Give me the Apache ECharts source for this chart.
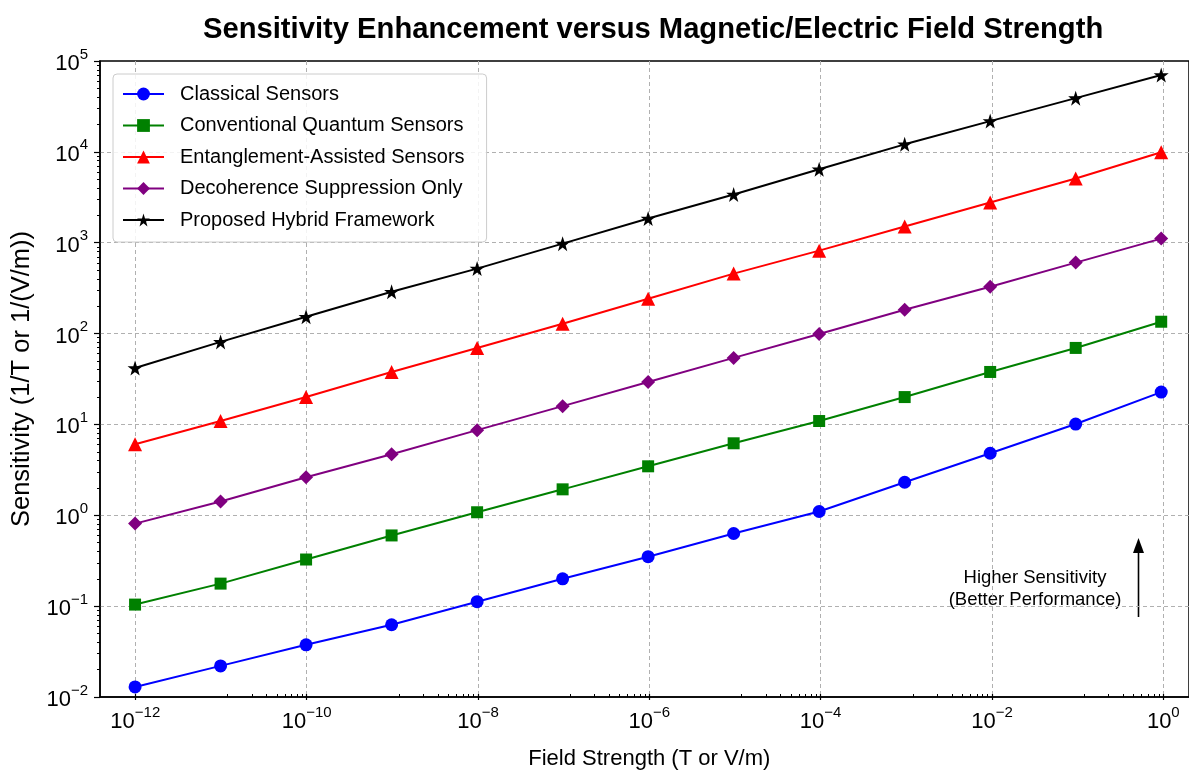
<!DOCTYPE html>
<html>
<head>
<meta charset="utf-8">
<script src="https://cdn.jsdelivr.net/npm/echarts@6/dist/echarts.min.js"></script>
<style>
  html, body { margin: 0; padding: 0; background: #fff; }
  #chart { width: 1189px; height: 775px; }
</style>
</head>
<body>
<div id="chart"></div>
<script>
// field strength (T or V/m), one point per decade
const fieldStrength = [1e-12, 1e-11, 1e-10, 1e-9, 1e-8, 1e-7, 1e-6, 1e-5, 1e-4, 1e-3, 1e-2, 1e-1, 1]

// sensitivity (1/T or 1/(V/m))
const classical = [0.0129, 0.022, 0.0375, 0.0624, 0.112, 0.2, 0.35, 0.63, 1.1, 2.31, 4.82, 10.1, 22.7]
const conventionalQuantum = [0.104, 0.177, 0.326, 0.6, 1.08, 1.93, 3.46, 6.2, 10.9, 20, 37.8, 69.5, 135]
const entanglement = [6.05, 10.9, 20, 37.8, 69.5, 128, 242, 457, 818, 1507, 2775, 5100, 9890]
const decoherence = [0.81, 1.42, 2.62, 4.7, 8.65, 15.9, 29.3, 54, 99, 183, 328, 604, 1110]
const hybrid = [41.8, 81, 153, 289, 519, 977, 1849, 3400, 6430, 12100, 21800, 39000, 70000]

const seriesNames = [
    'Classical Sensors',
    'Conventional Quantum Sensors',
    'Entanglement-Assisted Sensors',
    'Decoherence Suppression Only',
    'Proposed Hybrid Framework',
]
const seriesValues = [classical, conventionalQuantum, entanglement, decoherence, hybrid]
const seriesColors = ['#0000ff', '#008000', '#ff0000', '#800080', '#000000']
const starPath = 'path://M50,0 L61.2,34.5 L97.6,34.5 L69.1,55.9 L79.4,90.5 L50,69.1 L20.6,90.5 L30.9,55.9 L2.4,34.5 L38.8,34.5 Z'
const seriesSymbols = ['circle', 'rect', 'triangle', 'path://M0,50 L50,0 L100,50 L50,100 Z', starPath]
const symbolSizes = [13, 12, 14, 14, 15]

const FONT = 'Liberation Sans, Arial, sans-serif'

const powLabel = (v) => {
    const e = Math.round(Math.log10(v))
    return '{b|10}{s|' + String(e).replace('-', '\u2212') + '}'
}
const powRich = {
    b: { fontSize: 22, lineHeight: 28, verticalAlign: 'bottom', fontFamily: FONT, color: '#000' },
    s: { fontSize: 15, lineHeight: 9, verticalAlign: 'top', fontFamily: FONT, color: '#000' },
}
const gridDash = { color: '#b0b0b0', type: [4, 3], width: 1 }

const chart = echarts.init(document.getElementById('chart'))

chart.setOption({
    animation: false,
    backgroundColor: '#fff',
    title: {
        text: 'Sensitivity Enhancement versus Magnetic/Electric Field Strength',
        left: 198,
        top: 10,
        textStyle: { fontFamily: FONT, fontSize: 29.2, fontWeight: 'bold', color: '#000' },
    },
    legend: {
        orient: 'vertical',
        left: 113,
        top: 74,
        padding: [10, 22, 12, 9],
        itemWidth: 41,
        itemHeight: 16,
        itemGap: 11.5,
        backgroundColor: 'rgba(255,255,255,0.85)',
        borderColor: '#cccccc',
        borderWidth: 1,
        borderRadius: 4,
        data: seriesNames,
        textStyle: { fontFamily: FONT, fontSize: 20, color: '#000', lineHeight: 20, padding: [0, 0, 0, 11] },
    },
    grid: [
        { left: 100, right: -2, top: 61, bottom: 78, show: true, borderColor: '#000', borderWidth: 1.5, backgroundColor: 'transparent' },
        { left: 135.3, right: 25.7, top: 61, bottom: 78 },
    ],
    xAxis: [
        {
            type: 'log',
            gridIndex: 0,
            logBase: 10,
            min: Math.pow(10, -12.41),
            max: Math.pow(10, 0.325),
            axisLine: { show: true, lineStyle: { color: '#000', width: 1.5 } },
            axisTick: { show: false },
            axisLabel: { show: false },
            splitLine: { show: false },
        },
        {
            type: 'log',
            gridIndex: 1,
            logBase: 10,
            min: 1e-12,
            max: 1,
            interval: 2,
            name: 'Field Strength (T or V/m)',
            nameLocation: 'middle',
            nameGap: 54,
            nameTextStyle: { fontFamily: FONT, fontSize: 22, color: '#000' },
            axisLine: { show: false },
            axisTick: { show: true, length: 6, lineStyle: { color: '#000', width: 1.2 } },
            minorTick: { show: true, splitNumber: 9, length: 3, lineStyle: { color: '#000', width: 1 } },
            axisLabel: { margin: 11, formatter: powLabel, rich: powRich },
            splitLine: { show: true, lineStyle: gridDash },
        },
    ],
    yAxis: [
        {
            type: 'log',
            gridIndex: 0,
            logBase: 10,
            min: 0.01,
            max: 1e5,
            interval: 1,
            name: 'Sensitivity (1/T or 1/(V/m))',
            nameLocation: 'middle',
            nameRotate: 90,
            nameGap: 65,
            nameTextStyle: { fontFamily: FONT, fontSize: 25.5, color: '#000' },
            axisLine: { show: true, lineStyle: { color: '#000', width: 1.5 } },
            axisTick: { show: true, length: 6, lineStyle: { color: '#000', width: 1.2 } },
            minorTick: { show: true, splitNumber: 9, length: 3, lineStyle: { color: '#000', width: 1 } },
            axisLabel: { margin: 12, formatter: powLabel, rich: powRich },
            splitLine: { show: true, showMinLine: false, showMaxLine: false, lineStyle: gridDash },
        },
        { type: 'value', gridIndex: 1, show: false, min: 0, max: 1 },
    ],
    graphic: [
        {
            type: 'text',
            x: 1035,
            y: 567,
            style: {
                text: 'Higher Sensitivity\n(Better Performance)',
                align: 'center',
                verticalAlign: 'top',
                lineHeight: 22,
                font: '18.5px ' + FONT,
                fill: '#000',
            },
        },
        {
            type: 'line',
            shape: { x1: 1138.5, y1: 617, x2: 1138.5, y2: 550 },
            style: { stroke: '#000', lineWidth: 1.6 },
        },
        {
            type: 'polygon',
            shape: { points: [[1138.5, 538], [1133, 553], [1144, 553]] },
            style: { fill: '#000' },
        },
    ],
    series: seriesNames.map((name, i) => ({
        name,
        type: 'line',
        xAxisIndex: 0,
        yAxisIndex: 0,
        data: fieldStrength.map((x, j) => [x, seriesValues[i][j]]),
        symbol: seriesSymbols[i],
        symbolSize: symbolSizes[i],
        showAllSymbol: true,
        itemStyle: { color: seriesColors[i] },
        lineStyle: { color: seriesColors[i], width: 2 },
        z: 3 + i,
    })),
})
</script>
</body>
</html>
